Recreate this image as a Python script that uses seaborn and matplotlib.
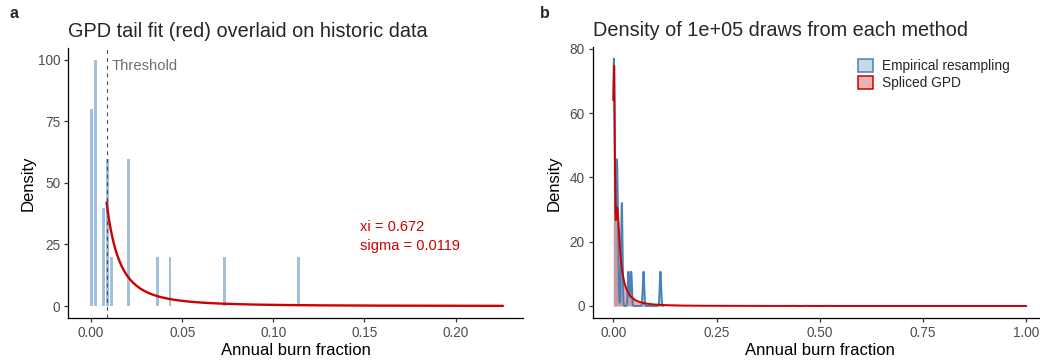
import numpy as np
import pandas as pd
import matplotlib
matplotlib.use("Agg")
import matplotlib.pyplot as plt
from matplotlib.patches import Patch
from matplotlib.colors import to_rgba
import seaborn as sns

# ---------------- data ----------------
burn_values = [0.0, 0.0023, 0.0068, 0.0091, 0.0114, 0.0205, 0.0365, 0.0433, 0.0730, 0.1140]
burn_counts = [4, 5, 2, 3, 1, 3, 1, 1, 1, 1]
hist_binwidth = 0.00228
threshold = 0.0085
gpd_xi = 0.672
gpd_sigma = 0.0119
curve_end = 0.226
kde_bandwidth = 0.0017
n_draws = 100000
method_labels = ["Empirical resampling", "Spliced GPD"]
left_xticks = [0.0, 0.05, 0.10, 0.15, 0.20]
left_yticks = [0, 25, 50, 75, 100]
right_xticks = [0.0, 0.25, 0.50, 0.75, 1.00]
right_yticks = [0, 20, 40, 60, 80]

STEEL = "#4682B4"
RED = "#CD0000"
GREY_TXT = "#4D4D4D"

sns.set_theme(style="ticks")
plt.rcParams["font.family"] = ["Liberation Sans", "DejaVu Sans"]
plt.rcParams.update({
    "axes.edgecolor": "black",
    "axes.linewidth": 0.9,
    "xtick.color": "#333333",
    "ytick.color": "#333333",
    "xtick.labelcolor": GREY_TXT,
    "ytick.labelcolor": GREY_TXT,
    "xtick.major.size": 3.2,
    "ytick.major.size": 3.2,
    "xtick.major.width": 0.9,
    "ytick.major.width": 0.9,
    "xtick.major.pad": 2.5,
    "ytick.major.pad": 2.5,
    "xtick.labelsize": 9.8,
    "ytick.labelsize": 9.8,
    "axes.labelsize": 12,
    "axes.labelcolor": "black",
})

W, H = 1040, 360
fig = plt.figure(figsize=(W / 100, H / 100), dpi=100)
axL = fig.add_axes([68.3 / W, 1 - 318.3 / H, (523 - 68.3) / W, (318.3 - 48) / H])
axR = fig.add_axes([592.7 / W, 1 - 318.3 / H, (1047 - 592.7) / W, (318.3 - 47.4) / H])

hist_df = pd.DataFrame({"burn": burn_values, "count": burn_counts})
vals = hist_df["burn"].to_numpy()
cnts = hist_df["count"].to_numpy(dtype=float)
n_obs = cnts.sum()
tail_prob = cnts[vals > threshold].sum() / n_obs

# ---------------- panel a ----------------
sns.histplot(data=hist_df, x="burn", weights="count", binwidth=hist_binwidth,
             binrange=(-0.5 * hist_binwidth, 50.5 * hist_binwidth), stat="density",
             shrink=0.7, color=STEEL, alpha=0.5, linewidth=0, ax=axL)

xg = np.linspace(threshold, curve_end, 600)
yg = tail_prob / gpd_sigma * (1 + gpd_xi * (xg - threshold) / gpd_sigma) ** (-1 / gpd_xi - 1)
sns.lineplot(x=xg, y=yg, color=RED, linewidth=1.7, estimator=None, ax=axL)
axL.axvline(threshold, color="#4D4D4D", linestyle=(0, (3.5, 3.5)), linewidth=0.8)
axL.text(threshold + 0.003, 97.2, "Threshold", color="#707070", fontsize=10.7,
         ha="left", va="center")
axL.text(0.1473, 32.2, f"xi = {gpd_xi}", color=RED, fontsize=10.5, ha="left", va="center")
axL.text(0.1473, 24.5, f"sigma = {gpd_sigma}", color=RED, fontsize=10.5, ha="left", va="center")

axL.set_xlim(-0.0125, 0.237)
axL.set_ylim(-4.99, 104.7)
axL.set_xticks(left_xticks)
axL.set_xticklabels([f"{t:.2f}" for t in left_xticks])
axL.set_yticks(left_yticks)
axL.set_xlabel("Annual burn fraction", labelpad=2)
axL.set_ylabel("Density", labelpad=1.5)
axL.set_title("GPD tail fit (red) overlaid on historic data", loc="left",
              fontsize=14.3, pad=8)

# ---------------- panel b ----------------
def bw_factor(x, w):
    return kde_bandwidth / np.sqrt(np.cov(x, aweights=w))

# empirical resampling: the historic values, weighted by count
fac_e = bw_factor(vals, cnts)
emp_df = pd.DataFrame({"x": vals, "w": cnts})
emp_kws = dict(gridsize=512, cut=3, clip=(0, 1), ax=axR)
sns.kdeplot(data=emp_df, x="x", weights="w", bw_method=fac_e, fill=True, alpha=0.3,
            linewidth=0, color=STEEL, **emp_kws)
sns.kdeplot(data=emp_df, x="x", weights="w", bw_method=fac_e, fill=False,
            linewidth=1.4, color=STEEL, **emp_kws)

# spliced: body = historic values below threshold, tail = GPD(xi, sigma) above threshold, kept within [0, 1]
body_mask = vals < threshold
body_x = vals[body_mask]
body_w = cnts[body_mask]
tail_count = cnts[~body_mask].sum()
n_tail_pts = 4000
F1 = 1 - (1 + gpd_xi * (1.0 - threshold) / gpd_sigma) ** (-1 / gpd_xi)
q = (np.arange(n_tail_pts) + 0.5) / n_tail_pts * F1
tail_x = threshold + gpd_sigma / gpd_xi * ((1 - q) ** (-gpd_xi) - 1)
tail_w = np.full(n_tail_pts, tail_count / n_tail_pts)
sp_df = pd.DataFrame({"x": np.concatenate([body_x, tail_x]),
                      "w": np.concatenate([body_w, tail_w])})
fac_s = bw_factor(sp_df["x"].to_numpy(), sp_df["w"].to_numpy())
sp_kws = dict(gridsize=512, cut=20, clip=(0, 1), ax=axR)
sns.kdeplot(data=sp_df, x="x", weights="w", bw_method=fac_s, fill=True,
            alpha=0.3, linewidth=0, color=RED, **sp_kws)
sns.kdeplot(data=sp_df, x="x", weights="w", bw_method=fac_s, fill=False,
            linewidth=1.4, color=RED, **sp_kws)

axR.set_xlim(-0.05, 1.05)
axR.set_ylim(-3.83, 80.4)
axR.set_xticks(right_xticks)
axR.set_xticklabels([f"{t:.2f}" for t in right_xticks])
axR.set_yticks(right_yticks)
axR.set_xlabel("Annual burn fraction", labelpad=2)
axR.set_ylabel("Density", labelpad=5.5)
axR.set_title("Density of 1e+05 draws from each method", loc="left", fontsize=14.3, pad=8)

handles = [Patch(facecolor=to_rgba(STEEL, 0.3), edgecolor=STEEL, linewidth=1.1),
           Patch(facecolor=to_rgba(RED, 0.3), edgecolor=RED, linewidth=1.1)]
fig.legend(handles, method_labels, loc="upper left", bbox_to_anchor=(858 / W, 1 - 58.5 / H),
           frameon=False, fontsize=9.9, handlelength=1.1, handleheight=1.1,
           handletextpad=0.65, labelspacing=0.25, borderpad=0, borderaxespad=0)

for ax in (axL, axR):
    sns.despine(ax=ax)

fig.text(10 / W, 1 - 13 / H, "a", fontsize=11.5, fontweight="bold", ha="left", va="center")
fig.text(540 / W, 1 - 13 / H, "b", fontsize=11.5, fontweight="bold", ha="left", va="center")

fig.savefig("out.png", dpi=100)
